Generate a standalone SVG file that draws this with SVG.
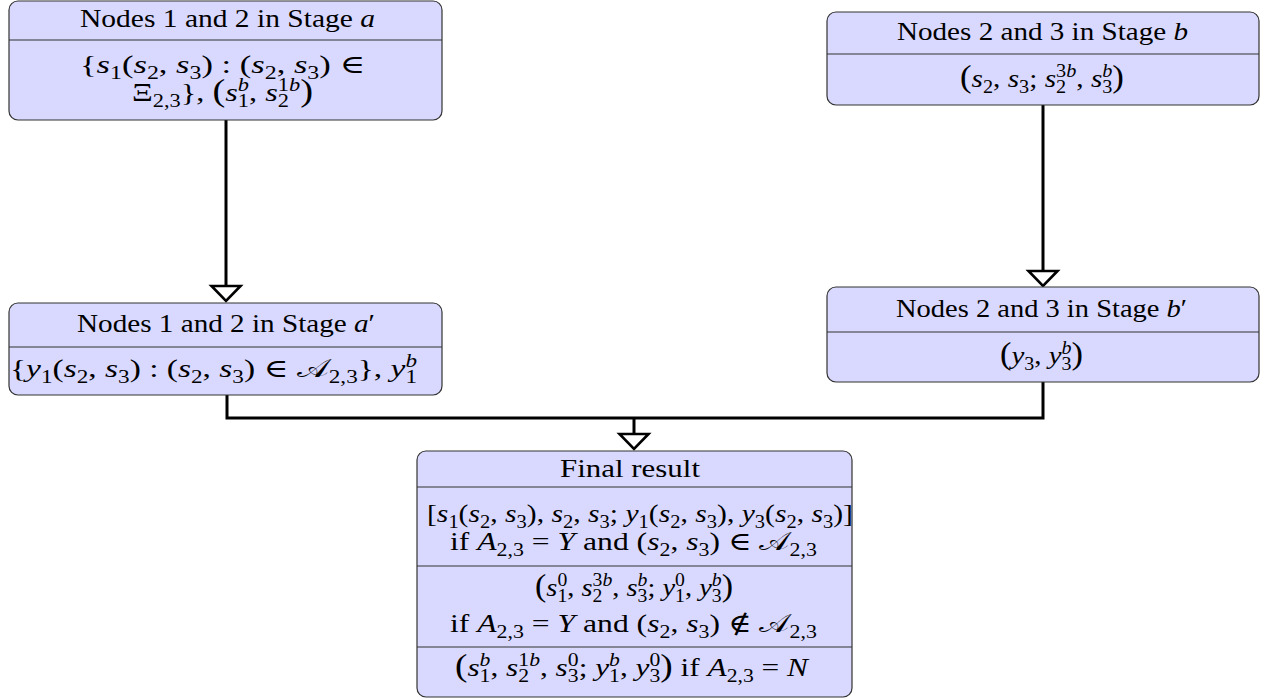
<svg xmlns="http://www.w3.org/2000/svg" width="1271" height="700" viewBox="0 0 1271 700">
  <style>
    .box { fill: #d9d9ff; stroke: #333333; stroke-width: 1.2; }
    .div { stroke: #333333; stroke-width: 1.2; }
    .tx { font-family: "Liberation Serif", "DejaVu Serif", serif; font-size: 26px; fill: #000000; }
    .i { font-style: italic; }
    .sb { font-size: 18px; baseline-shift: -6px; }
    .sp { font-size: 18px; baseline-shift: 10px; }
    .bp { font-size: 31px; }
    .cal { font-family: "DejaVu Sans", "Noto Sans", serif; font-style: normal; }
    .wire { fill: none; stroke: #000000; stroke-width: 3; }
  </style>
  <defs>
    <marker id="open-tri" markerUnits="userSpaceOnUse" viewBox="-3 -18 21 36" refX="15" refY="0" markerWidth="21" markerHeight="36" orient="auto">
      <path d="M0,-14.5 L15,0 L0,14.5 Z" fill="#ffffff" stroke="#000000" stroke-width="2.6" stroke-linejoin="miter"/>
    </marker>
  </defs>

  <!-- connectors -->
  <g id="connectors">
    <path class="wire" d="M226,120 V301" marker-end="url(#open-tri)"/>
    <path class="wire" d="M1043,105 V286" marker-end="url(#open-tri)"/>
    <path class="wire" d="M227,395 V418 H1043 V382"/>
    <path class="wire" d="M634,418 V449" marker-end="url(#open-tri)"/>
  </g>

  <!-- Stage a -->
  <g id="node-a">
    <rect class="box" x="9" y="1" width="433" height="119" rx="9"/>
    <line class="div" x1="9" y1="40" x2="442" y2="40"/>
    <text class="tx" x="80" y="27" textLength="295" lengthAdjust="spacingAndGlyphs">Nodes 1 and 2 in Stage <tspan class="i">a</tspan></text>
    <text class="tx" x="80" y="73" textLength="285" lengthAdjust="spacingAndGlyphs">{<tspan class="i">s</tspan><tspan class="sb">1</tspan>(<tspan class="i">s</tspan><tspan class="sb">2</tspan>, <tspan class="i">s</tspan><tspan class="sb">3</tspan>)  :  (<tspan class="i">s</tspan><tspan class="sb">2</tspan>, <tspan class="i">s</tspan><tspan class="sb">3</tspan>)  ∈</text>
    <text class="tx" x="132" y="101" textLength="181" lengthAdjust="spacingAndGlyphs">Ξ<tspan class="sb">2,3</tspan>}, <tspan class="bp">(</tspan><tspan class="i">s</tspan><tspan class="sb">1</tspan><tspan class="sp i" dx="-9">b</tspan>, <tspan class="i">s</tspan><tspan class="sb">2</tspan><tspan class="sp" dx="-9">1<tspan class="i">b</tspan></tspan><tspan class="bp">)</tspan></text>
  </g>

  <!-- Stage b -->
  <g id="node-b">
    <rect class="box" x="827" y="12" width="432" height="93" rx="9"/>
    <line class="div" x1="827" y1="54" x2="1259" y2="54"/>
    <text class="tx" x="897" y="40" textLength="291" lengthAdjust="spacingAndGlyphs">Nodes 2 and 3 in Stage <tspan class="i">b</tspan></text>
    <text class="tx" x="960" y="87" textLength="164" lengthAdjust="spacingAndGlyphs"><tspan class="bp">(</tspan><tspan class="i">s</tspan><tspan class="sb">2</tspan>, <tspan class="i">s</tspan><tspan class="sb">3</tspan>; <tspan class="i">s</tspan><tspan class="sb">2</tspan><tspan class="sp" dx="-9">3<tspan class="i">b</tspan></tspan>, <tspan class="i">s</tspan><tspan class="sb">3</tspan><tspan class="sp i" dx="-9">b</tspan><tspan class="bp">)</tspan></text>
  </g>

  <!-- Stage a' -->
  <g id="node-a-prime">
    <rect class="box" x="9" y="303" width="433" height="92" rx="9"/>
    <line class="div" x1="9" y1="347" x2="442" y2="347"/>
    <text class="tx" x="77" y="332" textLength="298" lengthAdjust="spacingAndGlyphs">Nodes 1 and 2 in Stage <tspan class="i">a</tspan>′</text>
    <text class="tx" x="10" y="377" textLength="407" lengthAdjust="spacingAndGlyphs">{<tspan class="i">y</tspan><tspan class="sb">1</tspan>(<tspan class="i">s</tspan><tspan class="sb">2</tspan>, <tspan class="i">s</tspan><tspan class="sb">3</tspan>) : (<tspan class="i">s</tspan><tspan class="sb">2</tspan>, <tspan class="i">s</tspan><tspan class="sb">3</tspan>) ∈ <tspan class="cal">𝒜</tspan><tspan class="sb">2,3</tspan>}, <tspan class="i">y</tspan><tspan class="sb">1</tspan><tspan class="sp i" dx="-9">b</tspan></text>
  </g>

  <!-- Stage b' -->
  <g id="node-b-prime">
    <rect class="box" x="827" y="287" width="432" height="95" rx="9"/>
    <line class="div" x1="827" y1="332" x2="1259" y2="332"/>
    <text class="tx" x="896" y="317" textLength="291" lengthAdjust="spacingAndGlyphs">Nodes 2 and 3 in Stage <tspan class="i">b</tspan>′</text>
    <text class="tx" x="1000" y="364" textLength="83" lengthAdjust="spacingAndGlyphs"><tspan class="bp">(</tspan><tspan class="i">y</tspan><tspan class="sb">3</tspan>, <tspan class="i">y</tspan><tspan class="sb">3</tspan><tspan class="sp i" dx="-9">b</tspan><tspan class="bp">)</tspan></text>
  </g>

  <!-- Final result -->
  <g id="node-final">
    <rect class="box" x="417" y="451" width="435" height="246" rx="9"/>
    <line class="div" x1="417" y1="487" x2="852" y2="487"/>
    <line class="div" x1="417" y1="566" x2="852" y2="566"/>
    <line class="div" x1="417" y1="647" x2="852" y2="647"/>
    <text class="tx" x="560" y="477" textLength="140" lengthAdjust="spacingAndGlyphs">Final result</text>
    <text class="tx" x="427" y="522" textLength="426" lengthAdjust="spacingAndGlyphs">[<tspan class="i">s</tspan><tspan class="sb">1</tspan>(<tspan class="i">s</tspan><tspan class="sb">2</tspan>, <tspan class="i">s</tspan><tspan class="sb">3</tspan>), <tspan class="i">s</tspan><tspan class="sb">2</tspan>, <tspan class="i">s</tspan><tspan class="sb">3</tspan>; <tspan class="i">y</tspan><tspan class="sb">1</tspan>(<tspan class="i">s</tspan><tspan class="sb">2</tspan>, <tspan class="i">s</tspan><tspan class="sb">3</tspan>), <tspan class="i">y</tspan><tspan class="sb">3</tspan>(<tspan class="i">s</tspan><tspan class="sb">2</tspan>, <tspan class="i">s</tspan><tspan class="sb">3</tspan>)]</text>
    <text class="tx" x="450" y="550" textLength="367" lengthAdjust="spacingAndGlyphs">if <tspan class="i">A</tspan><tspan class="sb">2,3</tspan> = <tspan class="i">Y</tspan> and (<tspan class="i">s</tspan><tspan class="sb">2</tspan>, <tspan class="i">s</tspan><tspan class="sb">3</tspan>) ∈ <tspan class="cal">𝒜</tspan><tspan class="sb">2,3</tspan></text>
    <text class="tx" x="535" y="596" textLength="198" lengthAdjust="spacingAndGlyphs"><tspan class="bp">(</tspan><tspan class="i">s</tspan><tspan class="sb">1</tspan><tspan class="sp" dx="-9">0</tspan>, <tspan class="i">s</tspan><tspan class="sb">2</tspan><tspan class="sp" dx="-9">3<tspan class="i">b</tspan></tspan>, <tspan class="i">s</tspan><tspan class="sb">3</tspan><tspan class="sp i" dx="-9">b</tspan>; <tspan class="i">y</tspan><tspan class="sb">1</tspan><tspan class="sp" dx="-9">0</tspan>, <tspan class="i">y</tspan><tspan class="sb">3</tspan><tspan class="sp i" dx="-9">b</tspan><tspan class="bp">)</tspan></text>
    <text class="tx" x="450" y="632" textLength="367" lengthAdjust="spacingAndGlyphs">if <tspan class="i">A</tspan><tspan class="sb">2,3</tspan> = <tspan class="i">Y</tspan> and (<tspan class="i">s</tspan><tspan class="sb">2</tspan>, <tspan class="i">s</tspan><tspan class="sb">3</tspan>) ∉ <tspan class="cal">𝒜</tspan><tspan class="sb">2,3</tspan></text>
    <text class="tx" x="455" y="676" textLength="353" lengthAdjust="spacingAndGlyphs"><tspan class="bp">(</tspan><tspan class="i">s</tspan><tspan class="sb">1</tspan><tspan class="sp i" dx="-9">b</tspan>, <tspan class="i">s</tspan><tspan class="sb">2</tspan><tspan class="sp" dx="-9">1<tspan class="i">b</tspan></tspan>, <tspan class="i">s</tspan><tspan class="sb">3</tspan><tspan class="sp" dx="-9">0</tspan>; <tspan class="i">y</tspan><tspan class="sb">1</tspan><tspan class="sp i" dx="-9">b</tspan>, <tspan class="i">y</tspan><tspan class="sb">3</tspan><tspan class="sp" dx="-9">0</tspan><tspan class="bp">)</tspan> if <tspan class="i">A</tspan><tspan class="sb">2,3</tspan> = <tspan class="i">N</tspan></text>
  </g>
</svg>
